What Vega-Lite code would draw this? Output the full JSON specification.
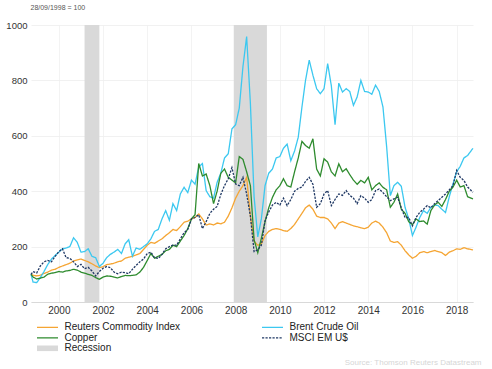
{
  "$schema": "https://vega.github.io/schema/vega-lite/v6.json",
  "width": 442,
  "height": 277,
  "autosize": {"type": "none"},
  "padding": {"left": 31, "top": 25, "right": 19, "bottom": 67},
  "background": "white",
  "config": {"font": "Liberation Sans", "view": {"stroke": null}},
  "datasets": {
    "rec": [
      {"d": "2001-03-01", "e": "2001-11-01", "label": "Recession"},
      {"d": "2007-12-01", "e": "2009-06-01", "label": "Recession"}
    ],
    "prices": [
      {"d": "1998-09-28", "rci": 100, "brent": 100, "cu": 100, "msci": 100},
      {"d": "1998-11-01", "rci": 97, "brent": 72, "cu": 90, "msci": 110},
      {"d": "1999-01-01", "rci": 94, "brent": 70, "cu": 83, "msci": 105},
      {"d": "1999-03-01", "rci": 97, "brent": 88, "cu": 86, "msci": 130},
      {"d": "1999-05-01", "rci": 103, "brent": 110, "cu": 90, "msci": 145},
      {"d": "1999-07-01", "rci": 108, "brent": 135, "cu": 100, "msci": 150},
      {"d": "1999-09-01", "rci": 115, "brent": 155, "cu": 104, "msci": 145},
      {"d": "1999-11-01", "rci": 118, "brent": 168, "cu": 106, "msci": 165},
      {"d": "2000-01-01", "rci": 125, "brent": 180, "cu": 110, "msci": 182},
      {"d": "2000-03-01", "rci": 130, "brent": 192, "cu": 108, "msci": 192},
      {"d": "2000-05-01", "rci": 135, "brent": 195, "cu": 112, "msci": 160},
      {"d": "2000-07-01", "rci": 140, "brent": 200, "cu": 114, "msci": 158},
      {"d": "2000-09-01", "rci": 148, "brent": 232, "cu": 118, "msci": 145},
      {"d": "2000-11-01", "rci": 152, "brent": 215, "cu": 115, "msci": 128},
      {"d": "2001-01-01", "rci": 155, "brent": 180, "cu": 108, "msci": 136},
      {"d": "2001-03-01", "rci": 150, "brent": 182, "cu": 104, "msci": 120},
      {"d": "2001-05-01", "rci": 145, "brent": 192, "cu": 100, "msci": 125},
      {"d": "2001-07-01", "rci": 138, "brent": 165, "cu": 96, "msci": 112},
      {"d": "2001-09-01", "rci": 130, "brent": 160, "cu": 88, "msci": 94},
      {"d": "2001-11-01", "rci": 124, "brent": 128, "cu": 82, "msci": 110},
      {"d": "2002-01-01", "rci": 128, "brent": 140, "cu": 90, "msci": 122},
      {"d": "2002-03-01", "rci": 135, "brent": 160, "cu": 94, "msci": 128},
      {"d": "2002-05-01", "rci": 137, "brent": 172, "cu": 93, "msci": 124},
      {"d": "2002-07-01", "rci": 140, "brent": 180, "cu": 90, "msci": 108},
      {"d": "2002-09-01", "rci": 145, "brent": 190, "cu": 87, "msci": 102},
      {"d": "2002-11-01", "rci": 148, "brent": 175, "cu": 92, "msci": 108},
      {"d": "2003-01-01", "rci": 158, "brent": 210, "cu": 96, "msci": 106},
      {"d": "2003-03-01", "rci": 162, "brent": 225, "cu": 95, "msci": 102},
      {"d": "2003-05-01", "rci": 165, "brent": 165, "cu": 96, "msci": 118},
      {"d": "2003-07-01", "rci": 170, "brent": 195, "cu": 98, "msci": 132},
      {"d": "2003-09-01", "rci": 175, "brent": 190, "cu": 108, "msci": 145},
      {"d": "2003-11-01", "rci": 190, "brent": 200, "cu": 125, "msci": 155},
      {"d": "2004-01-01", "rci": 205, "brent": 210, "cu": 150, "msci": 175},
      {"d": "2004-03-01", "rci": 215, "brent": 228, "cu": 175, "msci": 180},
      {"d": "2004-05-01", "rci": 212, "brent": 255, "cu": 158, "msci": 160},
      {"d": "2004-07-01", "rci": 220, "brent": 262, "cu": 165, "msci": 157},
      {"d": "2004-09-01", "rci": 228, "brent": 300, "cu": 172, "msci": 172},
      {"d": "2004-11-01", "rci": 240, "brent": 330, "cu": 185, "msci": 192},
      {"d": "2005-01-01", "rci": 250, "brent": 295, "cu": 190, "msci": 200},
      {"d": "2005-03-01", "rci": 262, "brent": 355, "cu": 205, "msci": 205},
      {"d": "2005-05-01", "rci": 258, "brent": 330, "cu": 200, "msci": 205},
      {"d": "2005-07-01", "rci": 272, "brent": 390, "cu": 220, "msci": 228},
      {"d": "2005-09-01", "rci": 288, "brent": 414, "cu": 240, "msci": 250},
      {"d": "2005-11-01", "rci": 292, "brent": 395, "cu": 265, "msci": 262},
      {"d": "2006-01-01", "rci": 300, "brent": 440, "cu": 300, "msci": 300},
      {"d": "2006-03-01", "rci": 305, "brent": 425, "cu": 315, "msci": 305},
      {"d": "2006-05-01", "rci": 318, "brent": 487, "cu": 500, "msci": 315},
      {"d": "2006-07-01", "rci": 300, "brent": 500, "cu": 455, "msci": 265},
      {"d": "2006-09-01", "rci": 278, "brent": 402, "cu": 462, "msci": 290},
      {"d": "2006-11-01", "rci": 282, "brent": 380, "cu": 420, "msci": 320},
      {"d": "2007-01-01", "rci": 278, "brent": 375, "cu": 355, "msci": 335},
      {"d": "2007-03-01", "rci": 285, "brent": 432, "cu": 400, "msci": 345},
      {"d": "2007-05-01", "rci": 282, "brent": 465, "cu": 465, "msci": 388},
      {"d": "2007-07-01", "rci": 288, "brent": 520, "cu": 480, "msci": 420},
      {"d": "2007-09-01", "rci": 310, "brent": 535, "cu": 450, "msci": 445},
      {"d": "2007-11-01", "rci": 340, "brent": 625, "cu": 440, "msci": 485},
      {"d": "2008-01-01", "rci": 375, "brent": 640, "cu": 430, "msci": 426},
      {"d": "2008-03-01", "rci": 400, "brent": 700, "cu": 525, "msci": 420},
      {"d": "2008-05-01", "rci": 420, "brent": 850, "cu": 515, "msci": 450},
      {"d": "2008-07-01", "rci": 450, "brent": 958, "cu": 470, "msci": 390},
      {"d": "2008-09-01", "rci": 310, "brent": 717, "cu": 420, "msci": 310},
      {"d": "2008-11-01", "rci": 220, "brent": 380, "cu": 225, "msci": 182},
      {"d": "2009-01-01", "rci": 205, "brent": 235, "cu": 178, "msci": 188},
      {"d": "2009-03-01", "rci": 210, "brent": 300, "cu": 230, "msci": 205},
      {"d": "2009-05-01", "rci": 240, "brent": 420, "cu": 290, "msci": 293},
      {"d": "2009-07-01", "rci": 255, "brent": 465, "cu": 340, "msci": 325},
      {"d": "2009-09-01", "rci": 262, "brent": 480, "cu": 378, "msci": 350},
      {"d": "2009-11-01", "rci": 265, "brent": 520, "cu": 405, "msci": 360},
      {"d": "2010-01-01", "rci": 262, "brent": 525, "cu": 420, "msci": 350},
      {"d": "2010-03-01", "rci": 258, "brent": 555, "cu": 445, "msci": 375},
      {"d": "2010-05-01", "rci": 255, "brent": 570, "cu": 420, "msci": 348},
      {"d": "2010-07-01", "rci": 265, "brent": 510, "cu": 415, "msci": 370},
      {"d": "2010-09-01", "rci": 280, "brent": 545, "cu": 470, "msci": 400},
      {"d": "2010-11-01", "rci": 300, "brent": 595, "cu": 520, "msci": 410},
      {"d": "2011-01-01", "rci": 320, "brent": 704, "cu": 580, "msci": 415},
      {"d": "2011-03-01", "rci": 340, "brent": 800, "cu": 565, "msci": 435},
      {"d": "2011-05-01", "rci": 350, "brent": 873, "cu": 555, "msci": 450},
      {"d": "2011-07-01", "rci": 335, "brent": 819, "cu": 589, "msci": 425},
      {"d": "2011-09-01", "rci": 310, "brent": 770, "cu": 480, "msci": 342},
      {"d": "2011-11-01", "rci": 305, "brent": 752, "cu": 455, "msci": 355},
      {"d": "2012-01-01", "rci": 305, "brent": 770, "cu": 517, "msci": 390},
      {"d": "2012-03-01", "rci": 300, "brent": 861, "cu": 505, "msci": 402},
      {"d": "2012-05-01", "rci": 285, "brent": 780, "cu": 470, "msci": 348},
      {"d": "2012-07-01", "rci": 265, "brent": 640, "cu": 455, "msci": 370},
      {"d": "2012-09-01", "rci": 285, "brent": 790, "cu": 499, "msci": 390},
      {"d": "2012-11-01", "rci": 290, "brent": 758, "cu": 470, "msci": 385},
      {"d": "2013-01-01", "rci": 285, "brent": 770, "cu": 481, "msci": 402},
      {"d": "2013-03-01", "rci": 280, "brent": 760, "cu": 460, "msci": 385},
      {"d": "2013-05-01", "rci": 275, "brent": 710, "cu": 440, "msci": 375},
      {"d": "2013-07-01", "rci": 272, "brent": 740, "cu": 425, "msci": 355},
      {"d": "2013-09-01", "rci": 268, "brent": 800, "cu": 439, "msci": 384},
      {"d": "2013-11-01", "rci": 265, "brent": 760, "cu": 430, "msci": 375},
      {"d": "2014-01-01", "rci": 270, "brent": 758, "cu": 450, "msci": 360},
      {"d": "2014-03-01", "rci": 285, "brent": 750, "cu": 405, "msci": 370},
      {"d": "2014-05-01", "rci": 292, "brent": 783, "cu": 420, "msci": 402},
      {"d": "2014-07-01", "rci": 285, "brent": 760, "cu": 430, "msci": 408},
      {"d": "2014-09-01", "rci": 270, "brent": 704, "cu": 414, "msci": 395},
      {"d": "2014-11-01", "rci": 250, "brent": 560, "cu": 405, "msci": 380},
      {"d": "2015-01-01", "rci": 220, "brent": 384, "cu": 342, "msci": 366},
      {"d": "2015-03-01", "rci": 215, "brent": 420, "cu": 360, "msci": 372},
      {"d": "2015-05-01", "rci": 218, "brent": 432, "cu": 390, "msci": 378},
      {"d": "2015-07-01", "rci": 205, "brent": 418, "cu": 335, "msci": 340},
      {"d": "2015-09-01", "rci": 185, "brent": 342, "cu": 320, "msci": 305},
      {"d": "2015-11-01", "rci": 170, "brent": 300, "cu": 290, "msci": 305},
      {"d": "2016-01-01", "rci": 158, "brent": 240, "cu": 279, "msci": 275},
      {"d": "2016-03-01", "rci": 165, "brent": 270, "cu": 300, "msci": 305},
      {"d": "2016-05-01", "rci": 178, "brent": 305, "cu": 290, "msci": 324},
      {"d": "2016-07-01", "rci": 182, "brent": 330, "cu": 293, "msci": 335},
      {"d": "2016-09-01", "rci": 178, "brent": 320, "cu": 281, "msci": 348},
      {"d": "2016-11-01", "rci": 182, "brent": 342, "cu": 330, "msci": 340},
      {"d": "2017-01-01", "rci": 186, "brent": 350, "cu": 350, "msci": 355},
      {"d": "2017-03-01", "rci": 182, "brent": 348, "cu": 360, "msci": 366},
      {"d": "2017-05-01", "rci": 178, "brent": 335, "cu": 345, "msci": 378},
      {"d": "2017-07-01", "rci": 168, "brent": 323, "cu": 370, "msci": 390},
      {"d": "2017-09-01", "rci": 180, "brent": 380, "cu": 400, "msci": 405},
      {"d": "2017-11-01", "rci": 185, "brent": 426, "cu": 415, "msci": 420},
      {"d": "2018-01-01", "rci": 192, "brent": 470, "cu": 440, "msci": 475},
      {"d": "2018-03-01", "rci": 190, "brent": 490, "cu": 415, "msci": 450},
      {"d": "2018-05-01", "rci": 196, "brent": 520, "cu": 420, "msci": 439},
      {"d": "2018-07-01", "rci": 192, "brent": 529, "cu": 380, "msci": 415},
      {"d": "2018-09-28", "rci": 188, "brent": 555, "cu": 372, "msci": 396}
    ]
  },
  "encoding": {
    "x": {
      "field": "d",
      "type": "temporal",
      "scale": {
        "type": "utc",
        "nice": false,
        "domain": [
          {"year": 1998, "month": 9, "date": 28, "utc": true},
          {"year": 2018, "month": 9, "date": 28, "utc": true}
        ]
      },
      "axis": {
        "values": [
          {"year": 2000, "utc": true}, {"year": 2002, "utc": true},
          {"year": 2004, "utc": true}, {"year": 2006, "utc": true},
          {"year": 2008, "utc": true}, {"year": 2010, "utc": true},
          {"year": 2012, "utc": true}, {"year": 2014, "utc": true},
          {"year": 2016, "utc": true}, {"year": 2018, "utc": true}
        ],
        "format": "%Y",
        "grid": true,
        "gridColor": "#F0F0F0",
        "gridWidth": 0.8,
        "domainColor": "#D9D9D9",
        "domainWidth": 1,
        "ticks": false,
        "labelPadding": 3,
        "labelFontSize": 10,
        "labelColor": "#333333",
        "title": "Source: Thomson Reuters Datastream",
        "titleX": 450,
        "titleY": 60,
        "titleAlign": "right",
        "titleAnchor": null,
        "titleBaseline": "middle",
        "titleFontSize": 8,
        "titleFontWeight": "normal",
        "titleColor": "#D6D6D6"
      }
    }
  },
  "layer": [
    {
      "data": {"name": "rec"},
      "mark": {"type": "rect"},
      "encoding": {
        "x2": {"field": "e"},
        "fill": {
          "field": "label",
          "type": "nominal",
          "scale": {"range": ["#D9D9D9"]},
          "legend": {
            "orient": "none",
            "legendX": 3,
            "legendY": 318.3,
            "title": null,
            "padding": 0,
            "symbolType": "M-1,-1.4H9.5V1.4H-1Z",
            "symbolSize": 16,
            "symbolStrokeWidth": 0,
            "labelOffset": 20.5,
            "labelFontSize": 10,
            "labelColor": "#222222"
          }
        }
      }
    },
    {
      "data": {"name": "prices"},
      "transform": [{"fold": ["rci", "brent", "cu", "msci"], "as": ["key", "value"]}],
      "mark": {"type": "line", "strokeWidth": 1.3},
      "encoding": {
        "y": {
          "field": "value",
          "type": "quantitative",
          "scale": {"domain": [0, 1000], "nice": false},
          "axis": {
            "values": [0, 200, 400, 600, 800, 1000],
            "format": "d",
            "grid": true,
            "gridColor": "#EEEEEE",
            "gridWidth": 0.8,
            "domain": false,
            "ticks": false,
            "labelPadding": 4,
            "labelFontSize": 9.5,
            "labelColor": "#333333",
            "title": "28/09/1998 = 100",
            "titleAngle": 0,
            "titleAlign": "left",
            "titleBaseline": "middle",
            "titleAnchor": null,
            "titleX": -1,
            "titleY": -17.5,
            "titleFontSize": 7,
            "titleFontWeight": "normal",
            "titleColor": "#555555"
          }
        },
        "color": {
          "field": "key",
          "type": "nominal",
          "scale": {
            "domain": ["rci", "cu", "brent", "msci"],
            "range": ["#F5A533", "#2E8B2E", "#3CC8F0", "#1F3864"]
          },
          "legend": {
            "orient": "none",
            "legendX": 3,
            "legendY": 297.3,
            "columns": 2,
            "columnPadding": 78,
            "rowPadding": 0.5,
            "title": null,
            "padding": 0,
            "symbolType": "M-1,0H9.5",
            "symbolSize": 16,
            "symbolStrokeWidth": 1.3,
            "labelOffset": 20.5,
            "labelFontSize": 10,
            "labelColor": "#222222",
            "labelExpr": "{'rci': 'Reuters Commodity Index', 'brent': 'Brent Crude Oil', 'cu': 'Copper', 'msci': 'MSCI EM U$'}[datum.label]"
          }
        },
        "strokeDash": {
          "field": "key",
          "type": "nominal",
          "scale": {
            "domain": ["rci", "cu", "brent", "msci"],
            "range": [[1, 0], [1, 0], [1, 0], [2.2, 1.3]]
          },
          "legend": {
            "orient": "none",
            "legendX": 3,
            "legendY": 297.3,
            "columns": 2,
            "columnPadding": 78,
            "rowPadding": 0.5,
            "title": null,
            "padding": 0,
            "symbolType": "M-1,0H9.5",
            "symbolSize": 16,
            "symbolStrokeWidth": 1.3,
            "labelOffset": 20.5,
            "labelFontSize": 10,
            "labelColor": "#222222",
            "labelExpr": "{'rci': 'Reuters Commodity Index', 'brent': 'Brent Crude Oil', 'cu': 'Copper', 'msci': 'MSCI EM U$'}[datum.label]"
          }
        }
      }
    }
  ]
}
